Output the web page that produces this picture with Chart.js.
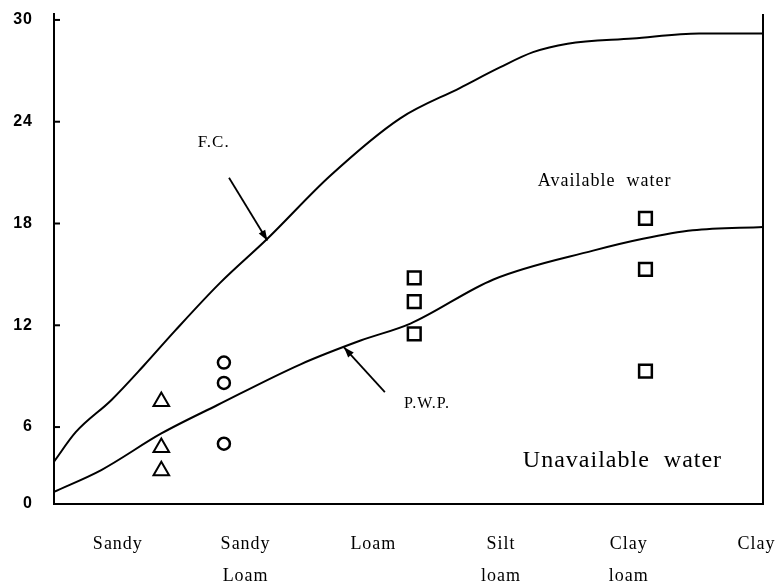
<!DOCTYPE html>
<html>
<head>
<meta charset="utf-8">
<script src="https://cdn.jsdelivr.net/npm/chart.js@4.4.1/dist/chart.umd.min.js"></script>
<style>
    body { margin: 0; background: #fff; }
</style>
</head>
<body>
<canvas id="chart-water" width="781" height="586"></canvas>
<script>
const categories = ['Sandy', ['Sandy', 'Loam'], 'Loam', ['Silt', 'loam'], ['Clay', 'loam'], 'Clay'];
const yTicks = [0, 6, 12, 18, 24, 30];

// F.C. curve
const fcX = [0.5, 0.67, 0.95, 1.2, 1.45, 1.8, 2.17, 2.66, 3.21, 3.68, 3.99, 4.25, 4.52, 5.03, 5.55, 6.05];
const fcY = [3.3, 5.6, 7.6, 9.6, 11.7, 14.5, 17.1, 20.8, 24.2, 26.0, 27.2, 28.1, 28.6, 28.9, 29.2, 29.2];

// P.W.P. curve
const pwpX = [0.5, 0.87, 1.34, 1.78, 2.43, 2.9, 3.29, 3.94, 4.72, 5.11, 5.5, 6.05];
const pwpY = [0.95, 2.65, 5.5, 7.3, 9.7, 11.1, 12.1, 14.7, 16.4, 17.1, 17.6, 17.8];

// measured points
const sandyX = [1.34, 1.34, 1.34];
const sandyY = [7.5, 4.4, 2.6];
const sandyLoamX = [1.83, 1.83, 1.83];
const sandyLoamY = [9.8, 8.6, 4.7];
const loamX = [3.32, 3.32, 3.32, 5.13, 5.13, 5.13];
const loamY = [14.8, 13.4, 11.5, 18.3, 15.3, 9.3];

const notes = [
    { text: 'F.C.', x: 1.75, y: 22.75, size: 17 },
    { text: 'P.W.P.', x: 3.42, y: 7.36, size: 16 },
    { text: 'Available  water', x: 4.81, y: 20.5, size: 18 },
    { text: 'Unavailable  water', x: 4.95, y: 3.35, size: 24 },
];
const arrows = [
    { from: [1.87, 20.7], to: [2.17, 17.0] },
    { from: [3.09, 8.06], to: [2.77, 10.7] },
];

const pts = (xs, ys) => xs.map((x, i) => ({ x: x, y: ys[i] }));

// the figure's y axis is squeezed between 0 and 6
const yBreak = 6;
const lowShare = 0.157;

class SplitScale extends Chart.LinearScale {
    getPixelForValue(value) {
        const h = this.bottom - this.top;
        const lowH = h * lowShare;
        if (value <= yBreak) {
            return this.bottom - (value - this.min) / (yBreak - this.min) * lowH;
        }
        return this.bottom - lowH - (value - yBreak) / (this.max - yBreak) * (h - lowH);
    }
    getValueForPixel(pixel) {
        const h = this.bottom - this.top;
        const lowH = h * lowShare;
        const d = this.bottom - pixel;
        if (d <= lowH) return this.min + d / lowH * (yBreak - this.min);
        return yBreak + (d - lowH) / (h - lowH) * (this.max - yBreak);
    }
}
SplitScale.id = 'split';
SplitScale.defaults = Chart.LinearScale.defaults;
Chart.register(SplitScale);

const extras = {
    id: 'extras',
    beforeDraw(chart) {
        chart.ctx.letterSpacing = '1px';
    },
    afterDraw(chart) {
        const ctx = chart.ctx;
        const area = chart.chartArea;
        const xs = chart.scales.x;
        const ys = chart.scales.y;
        ctx.save();
        ctx.strokeStyle = '#000';
        ctx.fillStyle = '#000';
        ctx.lineWidth = 2;

        // right frame line
        ctx.beginPath();
        ctx.moveTo(area.right, area.top);
        ctx.lineTo(area.right, area.bottom);
        ctx.stroke();

        // small inward ticks
        yTicks.slice(1).forEach(v => {
            const y = ys.getPixelForValue(v);
            ctx.beginPath();
            ctx.moveTo(area.left, y);
            ctx.lineTo(area.left + 6, y);
            ctx.stroke();
        });

        // arrows
        ctx.lineWidth = 1.8;
        arrows.forEach(a => {
            const x1 = xs.getPixelForValue(a.from[0]), y1 = ys.getPixelForValue(a.from[1]);
            const x2 = xs.getPixelForValue(a.to[0]), y2 = ys.getPixelForValue(a.to[1]);
            const ang = Math.atan2(y2 - y1, x2 - x1);
            ctx.beginPath();
            ctx.moveTo(x1, y1);
            ctx.lineTo(x2, y2);
            ctx.stroke();
            ctx.beginPath();
            ctx.moveTo(x2, y2);
            ctx.lineTo(x2 - 11 * Math.cos(ang - 0.35), y2 - 11 * Math.sin(ang - 0.35));
            ctx.lineTo(x2 - 11 * Math.cos(ang + 0.35), y2 - 11 * Math.sin(ang + 0.35));
            ctx.closePath();
            ctx.fill();
        });

        // text notes
        ctx.textAlign = 'center';
        ctx.textBaseline = 'middle';
        notes.forEach(n => {
            ctx.font = n.size + 'px "Liberation Serif"';
            ctx.fillText(n.text, xs.getPixelForValue(n.x), ys.getPixelForValue(n.y));
        });
        ctx.restore();
    }
};

const config = {
    type: 'line',
    data: {
        datasets: [{
            label: 'F.C.',
            data: pts(fcX, fcY),
            borderColor: '#000',
            borderWidth: 2,
            pointRadius: 0,
            cubicInterpolationMode: 'monotone',
        }, {
            label: 'P.W.P.',
            data: pts(pwpX, pwpY),
            borderColor: '#000',
            borderWidth: 2,
            pointRadius: 0,
            cubicInterpolationMode: 'monotone',
        }, {
            label: 'Sandy',
            data: pts(sandyX, sandyY),
            showLine: false,
            pointStyle: 'triangle',
            pointRadius: 9,
            pointBorderWidth: 2,
            pointBorderColor: '#000',
            pointBackgroundColor: '#fff',
        }, {
            label: 'Sandy Loam',
            data: pts(sandyLoamX, sandyLoamY),
            showLine: false,
            pointStyle: 'circle',
            pointRadius: 6,
            pointBorderWidth: 2.5,
            pointBorderColor: '#000',
            pointBackgroundColor: '#fff',
        }, {
            label: 'Loam',
            data: pts(loamX, loamY),
            showLine: false,
            pointStyle: 'rect',
            pointRadius: 9,
            pointBorderWidth: 2.5,
            pointBorderColor: '#000',
            pointBackgroundColor: '#fff',
        }]
    },
    options: {
        responsive: false,
        animation: false,
        layout: { padding: { top: 14, right: 18, left: 0, bottom: 0 } },
        plugins: { legend: { display: false }, tooltip: { enabled: false } },
        scales: {
            x: {
                type: 'linear',
                min: 0.5,
                max: 6.05,
                grid: { display: false },
                border: { color: '#000', width: 2 },
                afterBuildTicks: s => { s.ticks = categories.map((c, i) => ({ value: i + 1 })); },
                afterFit: s => {
                    s.height = 82;
                    s.paddingLeft = 0;
                    s.paddingRight = 0;
                },
                ticks: {
                    callback: (v, i) => categories[i],
                    color: '#000',
                    font: { family: 'Liberation Serif', size: 18, lineHeight: 1.78 },
                    padding: 16,
                    maxRotation: 0,
                    autoSkip: false,
                }
            },
            y: {
                type: 'split',
                min: 0,
                max: 30.35,
                grid: { display: false, drawTicks: false },
                border: { color: '#000', width: 2 },
                afterBuildTicks: s => { s.ticks = yTicks.map(v => ({ value: v })); },
                afterFit: s => {
                    s.width = 54;
                    s.paddingTop = 0;
                    s.paddingBottom = 0;
                },
                ticks: {
                    color: '#000',
                    font: { family: 'Liberation Sans', size: 16, weight: 'bold' },
                    padding: 21,
                }
            }
        }
    },
    plugins: [extras]
};

const chart = new Chart(document.getElementById('chart-water'), config);
</script>
</body>
</html>
